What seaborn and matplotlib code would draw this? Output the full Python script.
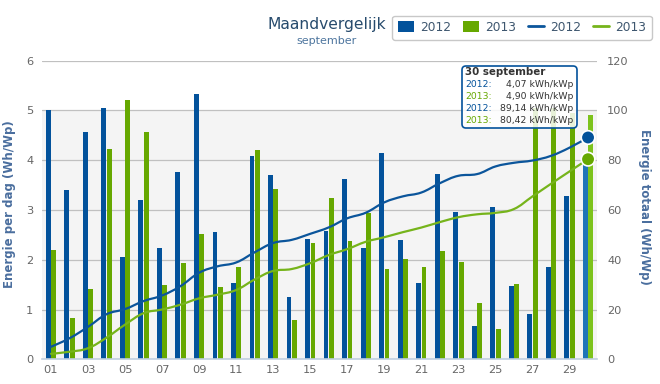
import numpy as np
import pandas as pd
import matplotlib
matplotlib.use("Agg")
import matplotlib.pyplot as plt
import seaborn as sns
from matplotlib.path import Path
from matplotlib.patches import PathPatch, FancyBboxPatch, Patch
from matplotlib.lines import Line2D

# ---------------- data ----------------
days = ["01", "02", "03", "04", "05", "06", "07", "08", "09", "10",
        "11", "12", "13", "14", "15", "16", "17", "18", "19", "20",
        "21", "22", "23", "24", "25", "26", "27", "28", "29", "30"]
years = ["2012", "2013"]

daily_2012 = [5.01, 3.40, 4.56, 5.05, 2.06, 3.20, 2.24, 3.77, 5.34, 2.56,
              1.54, 4.08, 3.71, 1.25, 2.42, 2.57, 3.63, 2.24, 4.14, 2.40,
              1.54, 3.73, 2.96, 0.67, 3.06, 1.47, 0.91, 1.86, 3.28, 4.07]
daily_2013 = [2.20, 0.83, 1.41, 4.23, 5.21, 4.56, 1.50, 1.94, 2.52, 1.46,
              1.86, 4.21, 3.42, 0.78, 2.34, 3.25, 2.38, 2.93, 1.82, 2.02,
              1.86, 2.18, 1.96, 1.14, 0.60, 1.52, 5.05, 5.05, 4.95, 4.90]

total_2012 = [5.03, 8.45, 13.03, 18.11, 20.18, 23.39, 25.64, 29.43, 34.79, 37.37,
              38.91, 43.01, 46.74, 48.00, 50.43, 53.01, 56.66, 58.91, 63.07, 65.48,
              67.03, 70.77, 73.75, 74.42, 77.50, 78.97, 79.89, 81.76, 85.05, 89.14]
total_2013 = [2.21, 3.04, 4.46, 8.71, 13.94, 18.52, 20.02, 21.97, 24.50, 25.97,
              27.84, 32.07, 35.50, 36.28, 38.63, 41.90, 44.29, 47.23, 49.06, 51.09,
              52.95, 55.14, 57.11, 58.26, 58.86, 60.39, 65.46, 70.53, 75.50, 80.42]

tooltip_title = "30 september"
tooltip_rows = [("2012:", "4,07 kWh/kWp"), ("2013:", "4,90 kWh/kWp"),
                ("2012:", "89,14 kWh/kWp"), ("2013:", "80,42 kWh/kWp")]

# ---------------- style ----------------
BLUE = "#03529B"
GREEN = "#66A800"
BLUE_LINE = "#0B559B"
GREEN_LINE = "#76B41B"
BLUE_HI = "#1F74B8"
GREEN_HI = "#7DC31C"
AXIS_TITLE = "#4A6E9E"
TICK = "#666666"

sns.set_theme(style="white")
plt.rcParams["font.family"] = ["DejaVu Sans"]

W, H = 660, 384
fig = plt.figure(figsize=(W / 100, H / 100), dpi=100)

def fx(x):
    return x / W

def fy(y):
    return 1 - y / H

left_px, right_px, top_px, bot_px = 41.7, 597.3, 60.7, 359.3
ax = fig.add_axes([fx(left_px), fy(bot_px), (right_px - left_px) / W, (bot_px - top_px) / H])

df = pd.DataFrame({
    "day": days * 2,
    "value": daily_2012 + daily_2013,
    "year": [years[0]] * len(days) + [years[1]] * len(days),
})
sns.barplot(data=df, x="day", y="value", hue="year", hue_order=years,
            palette={years[0]: BLUE, years[1]: GREEN}, saturation=1,
            width=0.58, gap=0.1, ax=ax, legend=False, linewidth=0, zorder=2)
# hovered last category is lighter
ax.containers[0][len(days) - 1].set_facecolor(BLUE_HI)
ax.containers[1][len(days) - 1].set_facecolor(GREEN_HI)

ax.set_xlim(-0.5, len(days) - 0.5)
ax.set_ylim(0, 6)
ax.set_yticks(range(0, 7))
ax.axhspan(0, 5, color="#F4F4F4", zorder=0, lw=0)
ax.set_axisbelow(True)
ax.grid(axis="y", color="#C0C0C0", lw=0.9)
ax.grid(axis="x", visible=False)
for s in ["left", "top", "right"]:
    ax.spines[s].set_visible(False)
ax.spines["bottom"].set_color("#C0D0E0")
ax.spines["bottom"].set_linewidth(1.2)
ax.spines["bottom"].set_zorder(3)

ax.set_xticks(range(0, len(days), 2))
ax.set_xticklabels(days[::2])
ax.set_xticks([-0.5] + [0.5 + 2 * k for k in range(15)], minor=True)
ax.tick_params(axis="x", which="major", length=0, pad=4, labelsize=8.2, labelcolor=TICK)
ax.tick_params(axis="x", which="minor", length=4, width=1.1, color="#C0D0E0", direction="out")
ax.tick_params(axis="y", length=0, pad=6, labelsize=8.2, labelcolor=TICK)
ax.set_xlabel("")
ax.set_ylabel("Energie per dag (Wh/Wp)", fontsize=8.5, fontweight="bold",
              color=AXIS_TITLE, rotation=90, ha="center", va="center")
ax.yaxis.set_label_coords((10 - left_px) / (right_px - left_px), 0.52)

ax2 = ax.twinx()
ax2.set_ylim(0, 120)
ax2.set_yticks(range(0, 121, 20))
ax2.tick_params(axis="y", length=0, pad=7, labelsize=8.2, labelcolor=TICK)
for s in ["left", "top", "right", "bottom"]:
    ax2.spines[s].set_visible(False)
ax2.grid(False)
ax2.set_ylabel("Energie totaal (Wh/Wp)", fontsize=8.5, fontweight="bold",
               color=AXIS_TITLE, rotation=270, ha="center", va="center")
ax2.yaxis.set_label_coords((644 - left_px) / (right_px - left_px), 0.51)


def hc_spline_path(xs, ys):
    smoothing, denom = 1.5, 2.5
    n = len(xs)
    lc, rc = [None] * n, [None] * n
    for i in range(n):
        x, y = xs[i], ys[i]
        if 0 < i < n - 1:
            lx, ly = xs[i - 1], ys[i - 1]
            nx, ny = xs[i + 1], ys[i + 1]
            lcx = (smoothing * x + lx) / denom
            lcy = (smoothing * y + ly) / denom
            rcx = (smoothing * x + nx) / denom
            rcy = (smoothing * y + ny) / denom
            corr = ((rcy - lcy) * (rcx - x)) / (rcx - lcx) + y - rcy
            lcy += corr
            rcy += corr
            if lcy > ly and lcy > y:
                lcy = max(ly, y); rcy = 2 * y - lcy
            elif lcy < ly and lcy < y:
                lcy = min(ly, y); rcy = 2 * y - lcy
            if rcy > ny and rcy > y:
                rcy = max(ny, y); lcy = 2 * y - rcy
            elif rcy < ny and rcy < y:
                rcy = min(ny, y); lcy = 2 * y - rcy
            lc[i], rc[i] = (lcx, lcy), (rcx, rcy)
        else:
            lc[i] = rc[i] = (x, y)
    verts = [(xs[0], ys[0])]
    codes = [Path.MOVETO]
    for i in range(1, n):
        verts += [rc[i - 1], lc[i], (xs[i], ys[i])]
        codes += [Path.CURVE4] * 3
    return Path(verts, codes)


xpos = list(range(len(days)))
for vals, col in [(total_2012, BLUE_LINE), (total_2013, GREEN_LINE)]:
    ax2.add_patch(PathPatch(hc_spline_path(xpos, vals), fill=False, ec=col, lw=1.6,
                            capstyle="round", joinstyle="round", zorder=3))
sns.scatterplot(x=[xpos[-1], xpos[-1]], y=[total_2012[-1], total_2013[-1]],
                hue=years, palette=[BLUE, GREEN], s=95, edgecolor="white",
                linewidth=1.2, ax=ax2, legend=False, zorder=4)

# ---------------- title ----------------
fig.text(fx(327), fy(24), "Maandvergelijk", ha="center", va="center",
         fontsize=11.2, color="#274B6D")
fig.text(fx(327), fy(41), "september", ha="center", va="center",
         fontsize=8, color="#4D759E")

# ---------------- legend ----------------
handles = [Patch(facecolor=BLUE, edgecolor="none"),
           Patch(facecolor=GREEN, edgecolor="none"),
           Line2D([], [], color=BLUE_LINE, lw=2),
           Line2D([], [], color=GREEN_LINE, lw=2)]
leg = fig.legend(handles, years + years, ncol=4, loc="center",
                 bbox_to_anchor=(fx(522), fy(27.5)), frameon=True, fancybox=True,
                 fontsize=8.8, handlelength=1.3, handleheight=1.0,
                 columnspacing=1.0, handletextpad=0.5, borderpad=0.45,
                 labelcolor="#3E576F", edgecolor="#C8C8C8", framealpha=1)
leg.get_frame().set_linewidth(1.0)

# ---------------- tooltip ----------------
tx0, tx1, ty0, ty1 = 462, 577, 66, 128
box = FancyBboxPatch((fx(tx0), fy(ty1)), (tx1 - tx0) / W, (ty1 - ty0) / H,
                     boxstyle="round,pad=0,rounding_size=0.006",
                     mutation_aspect=W / H, transform=fig.transFigure,
                     fc=(1, 1, 1, 0.85), ec=BLUE, lw=1.2, zorder=10)
fig.add_artist(box)
fig.text(fx(465), fy(72.3), tooltip_title, ha="left", va="center", fontsize=7.4,
         fontweight="bold", color="#333333", zorder=11)
row_y = [84.3, 96.3, 108.3, 120.3]
row_cols = [BLUE, GREEN, BLUE, GREEN]
for (lab, val), yy, c in zip(tooltip_rows, row_y, row_cols):
    fig.text(fx(465), fy(yy), lab, ha="left", va="center", fontsize=6.7, color=c, zorder=11)
    fig.text(fx(573), fy(yy), val, ha="right", va="center", fontsize=6.7,
             color="#333333", zorder=11)

fig.savefig("out.png", dpi=100)
